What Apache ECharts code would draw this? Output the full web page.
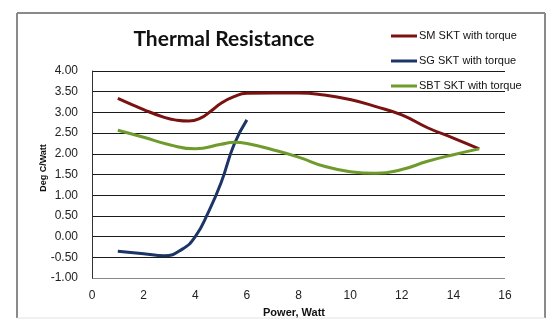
<!DOCTYPE html>
<html>
<head>
<meta charset="utf-8">
<script src="https://cdn.jsdelivr.net/npm/echarts@6/dist/echarts.min.js"></script>
<style>
  html, body { margin: 0; padding: 0; background: #ffffff; }
  #chart { width: 551px; height: 323px; }
</style>
</head>
<body>
<div id="chart"></div>
<script>
// Thermal resistance (Deg C/Watt) versus dissipated power (Watt)
const seriesNames = ['SM SKT with torque', 'SG SKT with torque', 'SBT SKT with torque'];

const smPower = [1, 2, 2.8, 3.3, 3.75, 4.2, 4.6, 5, 5.5, 6, 7, 8, 9, 10, 11, 12, 13, 14, 15];
const smValues = [3.34, 3.07, 2.88, 2.81, 2.79, 2.86, 3.03, 3.22, 3.38, 3.46, 3.47, 3.47, 3.42, 3.31, 3.14, 2.94, 2.63, 2.38, 2.12];

const sgPower = [1, 2, 2.8, 3.5, 4, 4.5, 5, 5.5, 6];
const sgValues = [-0.35, -0.41, -0.46, -0.30, 0.00, 0.58, 1.30, 2.22, 2.82];

const sbtPower = [1, 2, 3, 4, 5, 5.5, 6, 7, 8, 9, 10, 11, 12, 13, 14, 15];
const sbtValues = [2.57, 2.40, 2.22, 2.12, 2.23, 2.28, 2.25, 2.10, 1.92, 1.70, 1.57, 1.53, 1.62, 1.82, 1.98, 2.12];

const xTicks = { min: 0, max: 16, step: 2 };
const yTicks = { min: -1, max: 4, step: 0.5 };

const colors = ['#7a1212', '#1d3566', '#6f9b2c'];
const baseFont = '"Liberation Sans", Arial, sans-serif';

function pairs(xs, ys) { return xs.map((x, i) => [x, ys[i]]); }

const chart = echarts.init(document.getElementById('chart'), null, { renderer: 'canvas' });

chart.setOption({
  animation: false,
  backgroundColor: '#ffffff',
  color: colors,
  grid: { left: 92, right: 46, top: 71, bottom: 40, containLabel: false },
  graphic: [
    // frame around the chart
    { type: 'line', shape: { x1: 17, y1: 13, x2: 545, y2: 13 }, style: { stroke: '#8a8a8a', lineWidth: 2 } },
    { type: 'line', shape: { x1: 17, y1: 13, x2: 17, y2: 318 }, style: { stroke: '#8a8a8a', lineWidth: 2 } },
    { type: 'line', shape: { x1: 545, y1: 13, x2: 545, y2: 318 }, style: { stroke: '#8a8a8a', lineWidth: 2 } },
    { type: 'line', shape: { x1: 17, y1: 318, x2: 545, y2: 318 }, style: { stroke: '#e2e2e2', lineWidth: 1 } },
    {
      type: 'text', x: 224, y: 39,
      style: { text: 'Thermal Resistance', font: 'bold 21px Lato, "Liberation Sans", sans-serif', fill: '#111111', textAlign: 'center', textVerticalAlign: 'middle' }
    },
    {
      type: 'text', x: 44, y: 168, rotation: Math.PI / 2,
      style: { text: 'Deg C/Watt', font: 'bold 9px ' + baseFont, fill: '#111111', textAlign: 'center', textVerticalAlign: 'middle' }
    }
  ],
  legend: {
    orient: 'vertical',
    left: 391,
    top: 29,
    padding: 0,
    itemWidth: 26,
    itemHeight: 3,
    itemGap: 11,
    icon: 'rect',
    data: seriesNames,
    textStyle: { fontFamily: baseFont, fontSize: 11, color: '#111111', lineHeight: 14, padding: [0, 0, 0, -3] }
  },
  xAxis: {
    type: 'value',
    min: xTicks.min,
    max: xTicks.max,
    interval: xTicks.step,
    name: 'Power, Watt',
    nameLocation: 'middle',
    nameGap: 20,
    nameTextStyle: { fontFamily: baseFont, fontWeight: 'bold', fontSize: 11, color: '#111111', padding: [0, 9, 0, 0] },
    axisLine: { show: false },
    axisTick: { show: false },
    splitLine: { show: false },
    axisLabel: { fontFamily: baseFont, fontSize: 12, color: '#222222', margin: 12 }
  },
  yAxis: {
    type: 'value',
    min: yTicks.min,
    max: yTicks.max,
    interval: yTicks.step,
    axisLine: { show: true, lineStyle: { color: '#333333', width: 1 } },
    axisTick: { show: false },
    splitLine: { show: true, lineStyle: { color: ['#888888', '#1a1a1a', '#1a1a1a', '#1a1a1a', '#1a1a1a', '#1a1a1a', '#1a1a1a', '#1a1a1a', '#1a1a1a', '#1a1a1a', '#1a1a1a'], width: 1 } },
    axisLabel: {
      fontFamily: baseFont, fontSize: 12, color: '#222222', margin: 14,
      formatter: v => v.toFixed(2)
    }
  },
  series: [
    { name: seriesNames[0], type: 'line', smooth: 0.5, showSymbol: false, data: pairs(smPower, smValues), lineStyle: { width: 3, color: colors[0] } },
    { name: seriesNames[1], type: 'line', smooth: 0.5, showSymbol: false, data: pairs(sgPower, sgValues), lineStyle: { width: 3, color: colors[1] } },
    { name: seriesNames[2], type: 'line', smooth: 0.5, showSymbol: false, data: pairs(sbtPower, sbtValues), lineStyle: { width: 3, color: colors[2] } }
  ]
});
</script>
</body>
</html>
